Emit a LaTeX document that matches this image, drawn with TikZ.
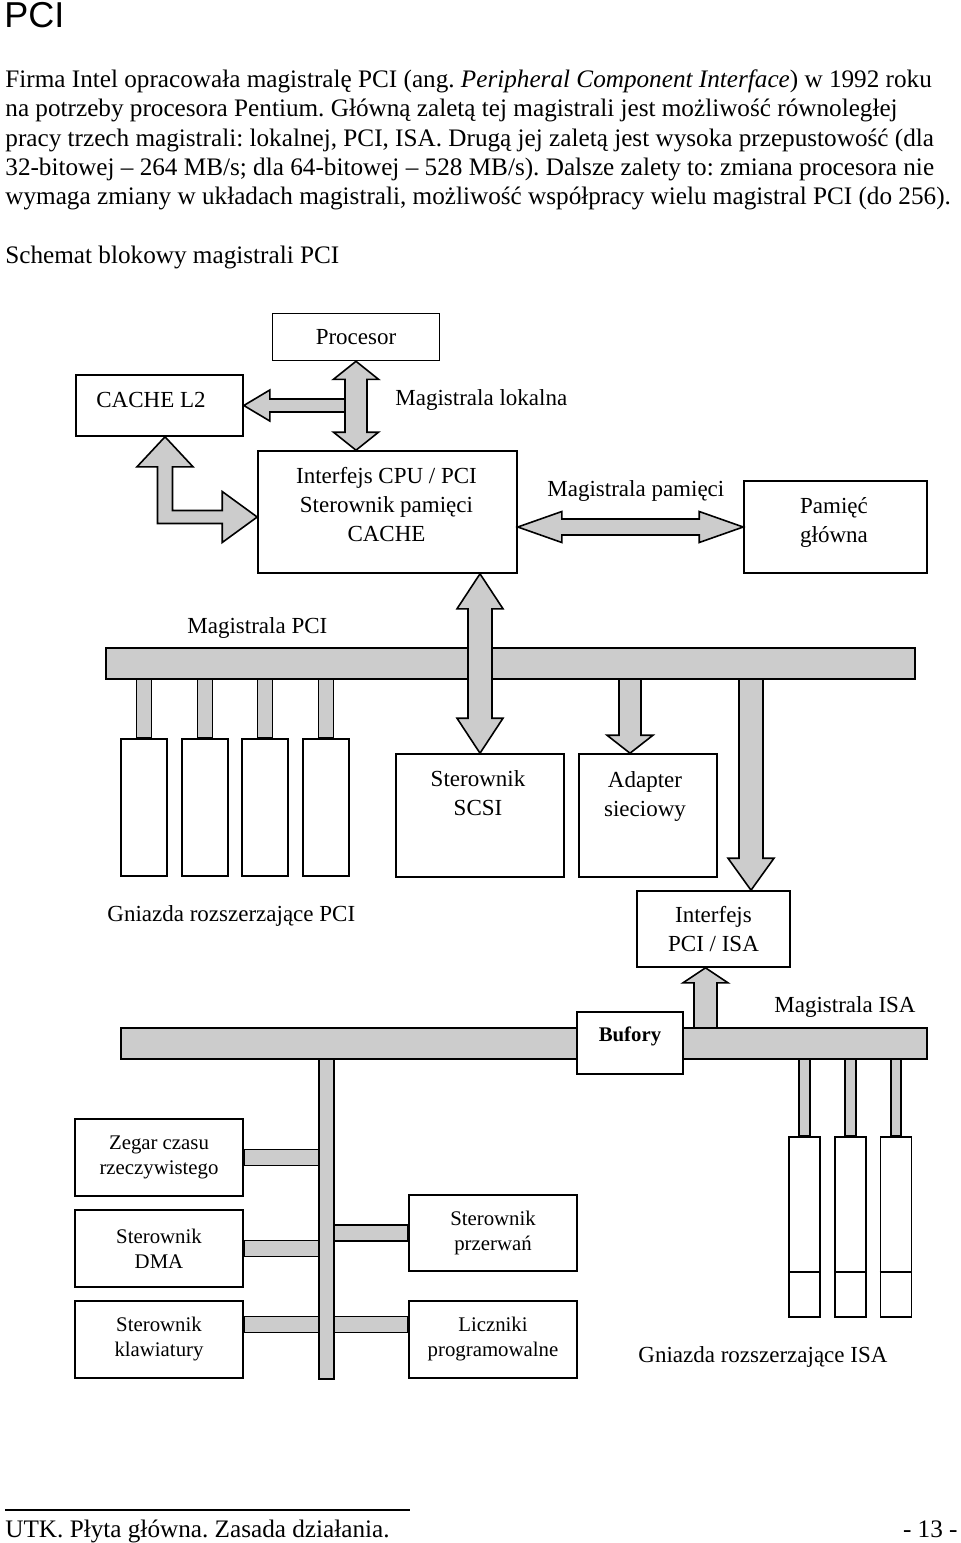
\documentclass[tikz,border=0pt]{standalone}
\usepackage{fontspec}
\setmainfont{Liberation Serif}
\newfontfamily\headfont{Liberation Sans}
\usetikzlibrary{calc, positioning}
\frenchspacing

\tikzset{
  box/.style={draw, line width=0.8pt, fill=white, inner sep=0pt},
  bus/.style={draw, line width=0.8pt, fill=black!20},
  lbl/.style={font=\fontsize{11.5}{14.5}\selectfont, inner sep=0pt, align=center},
  smalltxt/.style={font=\fontsize{10.4}{12.5}\selectfont, inner sep=0pt, align=center},
  bodytxt/.style={font=\fontsize{12.6}{15}\selectfont, inner sep=0pt, anchor=base west},
}

% fat double arrow, vertical: top tip, bottom tip, half shaft, half head, head length
\newcommand{\fatdblv}[5]{%
  \draw[bus] (#1) -- ($(#1)+(#4,#5)$) -- ($(#1)+(#3,#5)$) -- ($(#2)+(#3,-#5)$) -- ($(#2)+(#4,-#5)$) -- (#2)
    -- ($(#2)+(-#4,-#5)$) -- ($(#2)+(-#3,-#5)$) -- ($(#1)+(-#3,#5)$) -- ($(#1)+(-#4,#5)$) -- cycle;}
% fat double arrow, horizontal: left tip, right tip, half shaft, half head, head length
\newcommand{\fatdblh}[5]{%
  \draw[bus] (#1) -- ($(#1)+(#5,-#4)$) -- ($(#1)+(#5,-#3)$) -- ($(#2)+(-#5,-#3)$) -- ($(#2)+(-#5,-#4)$) -- (#2)
    -- ($(#2)+(-#5,#4)$) -- ($(#2)+(-#5,#3)$) -- ($(#1)+(#5,#3)$) -- ($(#1)+(#5,#4)$) -- cycle;}
% fat single arrow, vertical: tail, tip, half shaft, half head, head length (negative = up)
\newcommand{\fatv}[5]{%
  \draw[bus] ($(#1)+(-#3,0)$) -- ($(#2)+({-#3},{-(#5)})$) -- ($(#2)+({-#4},{-(#5)})$) -- (#2)
    -- ($(#2)+(#4,{-(#5)})$) -- ($(#2)+(#3,{-(#5)})$) -- ($(#1)+(#3,0)$);}

\begin{document}
\begin{tikzpicture}[x=0.5pt, y=-0.5pt]
  \fill[white] (0,0) rectangle (960,1543);
  \useasboundingbox (0,0) rectangle (960,1543);

  % page text
  \node[anchor=base west, inner sep=0pt, font=\headfont\fontsize{18}{21}\selectfont] (title) at (4,27) {PCI};
  \node[bodytxt] (par1) at (5,87) {Firma Intel opracowała magistralę PCI (ang. \textit{Peripheral Component Interface}) w 1992 roku};
  \node[bodytxt] (par2) at (5,116) {na potrzeby procesora Pentium. Główną zaletą tej magistrali jest możliwość równoległej};
  \node[bodytxt] (par3) at (5,146) {pracy trzech magistrali: lokalnej, PCI, ISA. Drugą jej zaletą jest wysoka przepustowość (dla};
  \node[bodytxt] (par4) at (5,175) {32-bitowej -- 264 MB/s; dla 64-bitowej -- 528 MB/s). Dalsze zalety to: zmiana procesora nie};
  \node[bodytxt] (par5) at (5,204) {wymaga zmiany w układach magistrali, możliwość współpracy wielu magistral PCI (do 256).};
  \node[bodytxt] (schem) at (5,263) {Schemat blokowy magistrali PCI};

  % CPU part
  \node[box, lbl, minimum width=83.5pt, minimum height=23.5pt] (proc) at (356,337) {Procesor};
  \node[box, minimum width=83.5pt, minimum height=30.5pt] (cache) at (159.5,405.5) {};
  \node[lbl] (cachetxt) at ($(cache)+(-8.5,-6)$) {CACHE L2};
  \node[box, minimum width=129.5pt, minimum height=61pt] (cpu) at (387.5,512) {};
  \node[lbl] (cputxt) at ($(cpu)+(-1,-7.5)$) {Interfejs CPU / PCI\\Sterownik pamięci\\CACHE};
  \node[box, minimum width=91.5pt, minimum height=46pt] (mem) at (835.5,527) {};
  \node[lbl] (memtxt) at ($(mem)+(-1.5,-5)$) {Pamięć\\główna};
  \node[lbl, anchor=base west] (lokal) at (395,405) {Magistrala lokalna};
  \node[lbl, anchor=base west] (mempath) at (547,496) {Magistrala pamięci};

  \coordinate (lokj) at (proc.south |- cache.east);
  \draw[bus] (cache.east) -- ++(26,-15.5) -- ++(0,9) -- ($(lokj)+(0,-6.5)$) -- ($(lokj)+(0,6.5)$)
    -- ($(cache.east)+(26,6.5)$) -- ++(0,9) -- cycle;
  \fatdblv{proc.south}{proc.south |- cpu.north}{11}{22.5}{18}
  \coordinate (ct) at ($(cache.south)+(5.5,0)$);
  \coordinate (cw) at ($(cpu.west)+(0,5)$);
  \draw[bus] (ct) -- ++(28,30) -- ++(-20.5,0) |- ($(cw)+(-35,-6.5)$) -- ++(0,-19) -- (cw)
    -- ++(-35,25.5) -- ++(0,-19) -| ($(ct)+(-7.5,30)$) -- ++(-20.5,0) -- cycle;
  \fatdblh{cpu.east |- mem.west}{mem.west}{8}{15.5}{44}

  % PCI bus
  \coordinate (pcib) at (106,648);
  \coordinate (pcie) at (915,679);
  \foreach \sx [count=\k] in {144,205,265,326} {
    \node[box, minimum width=23pt, minimum height=68.5pt] (ps\k) at (\sx,807.5) {};
    \draw[bus] ($(ps\k.north)+(-7.5,0)$) rectangle ($(ps\k.north |- pcie)+(7.5,0)$);
  }
  \node[box, minimum width=84pt, minimum height=61.5pt] (scsi) at (480,815.5) {};
  \node[lbl] (scsitxt) at ($(scsi)+(-2,-22)$) {Sterownik\\SCSI};
  \node[box, minimum width=69pt, minimum height=61.5pt] (adapter) at (648,815.5) {};
  \node[lbl] (adtxt) at ($(adapter)+(-3,-19.5)$) {Adapter\\sieciowy};
  \node[box, lbl, minimum width=76.5pt, minimum height=38pt] (pciisa) at (713.5,929) {Interfejs\\PCI / ISA};
  \coordinate (adtip) at ($(adapter.north)+(-18,0)$);
  \coordinate (isatip) at ($(pciisa.north)+(37.5,0)$);
  \fatv{adtip |- pcie}{adtip}{11}{23}{18}
  \fatv{isatip |- pcie}{isatip}{12}{23}{32}
  \draw[bus] (pcib) rectangle (pcie);
  \fatdblv{scsi.north |- cpu.south}{scsi.north}{12}{23}{35}
  \node[lbl, anchor=base west] (pcilbl) at (187,633) {Magistrala PCI};
  \node[lbl, anchor=base west] (pcislots) at (107,921) {Gniazda rozszerzające PCI};

  % ISA bus
  \coordinate (isab) at (121,1028);
  \coordinate (isae) at (927,1059);
  \node[box, smalltxt, minimum width=84pt, minimum height=38.5pt] (zegar) at (159,1157.5) {Zegar czasu\\rzeczywistego};
  \node[box, smalltxt, minimum width=84pt, minimum height=38.5pt] (dma) at (159,1248.5) {Sterownik\\DMA};
  \node[box, smalltxt, minimum width=84pt, minimum height=38.5pt] (klaw) at (159,1339.5) {Sterownik\\klawiatury};
  \node[box, smalltxt, minimum width=84pt, minimum height=38pt] (przer) at (493,1233) {Sterownik\\przerwań};
  \node[box, smalltxt, minimum width=84pt, minimum height=38.5pt] (liczn) at (493,1339.5) {Liczniki\\programowalne};
  \foreach \sx [count=\k] in {804.5,850.5,896} {
    \node[box, minimum width=15.5pt, minimum height=90pt] (is\k) at (\sx,1227) {};
    \draw[line width=0.8pt] ($(is\k.south west)+(0,-46)$) -- ($(is\k.south east)+(0,-46)$);
    \draw[bus] ($(is\k.north)+(-5.25,0)$) rectangle ($(is\k.north |- isae)+(5.25,0)$);
  }
  \coordinate (isaup) at ($(pciisa.south)+(-8,0)$);
  \fatv{isaup |- isab}{isaup}{11.5}{22.5}{-15}
  \coordinate (stem) at (326.5,1059);
  \draw[bus] ($(zegar.east)+(0,-8)$) rectangle ($(zegar.east -| stem)+(-7.5,8)$);
  \draw[bus] ($(dma.east)+(0,-8)$) rectangle ($(dma.east -| stem)+(-7.5,8)$);
  \draw[bus] ($(klaw.east)+(0,-23)$) rectangle ($(klaw.east -| stem)+(-7.5,-7)$);
  \draw[bus] ($(przer.west)+(0,-8)$) rectangle ($(przer.west -| stem)+(7.5,8)$);
  \draw[bus] ($(liczn.west)+(0,-23)$) rectangle ($(liczn.west -| stem)+(7.5,-7)$);
  \draw[bus] ($(stem)+(-7.5,0)$) rectangle ($(stem |- klaw.south)+(7.5,0)$);
  \draw[bus] (isab) rectangle (isae);
  \node[box, minimum width=53pt, minimum height=31pt] (bufory) at (630,1043) {};
  \node[smalltxt, font=\fontsize{10.4}{12.5}\selectfont\bfseries] (buftxt) at ($(bufory)+(0,-7)$) {Bufory};
  \node[lbl, anchor=base west] (isalbl) at (774,1012) {Magistrala ISA};
  \node[lbl, anchor=base west] (isaslots) at (638,1362) {Gniazda rozszerzające ISA};

  % footer
  \draw[line width=0.6pt] (5,1510) -- (410,1510);
  \node[bodytxt] (foot) at (5,1537) {UTK. Płyta główna. Zasada działania.};
  \node[bodytxt, anchor=base east] (page) at (958,1537) {- 13 -};
\end{tikzpicture}
\end{document}
